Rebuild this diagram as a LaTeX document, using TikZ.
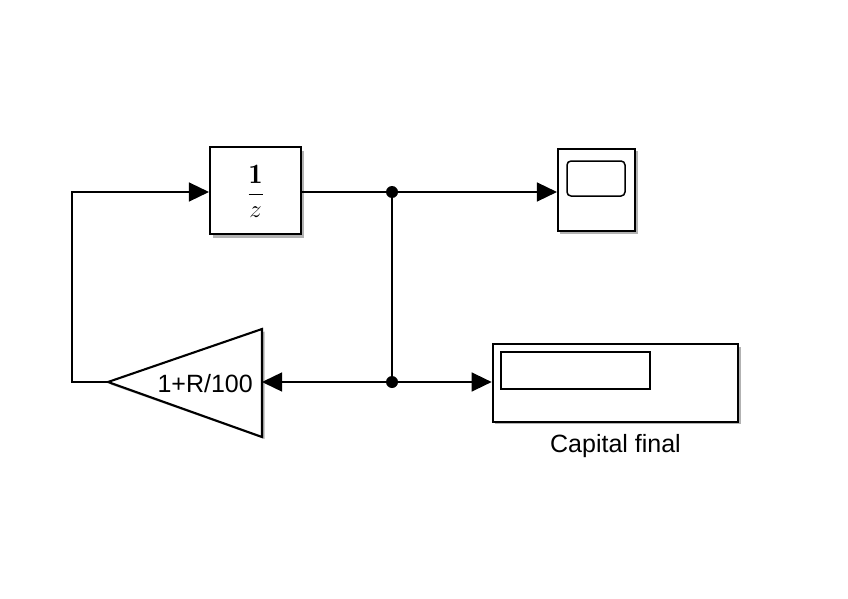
\documentclass[tikz,border=0pt]{standalone}
\usepackage{fontspec}
\newfontfamily\arial{Liberation Sans}
\usetikzlibrary{arrows.meta}
\begin{document}
\begin{tikzpicture}[x=1pt,y=-1pt,
  blk/.style={draw=black,fill=white,line width=2.1pt,inner sep=0pt},
  shad/.style={fill=black!30,draw=none},
  sig/.style={line width=1.4pt,-{Triangle[length=20pt,width=19pt]}},
  wire/.style={line width=1.4pt},
  jdot/.style={circle,fill=black,inner sep=0pt,minimum size=12pt},
  lbl/.style={font=\arial\fontsize{25}{30}\selectfont,inner sep=0pt}]
\useasboundingbox (0,0) rectangle (848,599);
% shadows
\fill[shad] (212.5,150.5) rectangle (303.5,238);
\fill[shad] (560,151) rectangle (637.5,233.5);
\fill[shad] (495,347) rectangle (740.5,424);
\fill[shad] (110.5,384.5) -- (264.5,331.5) -- (264.5,439) -- cycle;
% unit delay
\node[blk,minimum width=91pt,minimum height=87pt] (delay) at (255.5,190.5) {};
\node[inner sep=0pt,font=\fontsize{28}{32}\selectfont] (dtxt) at (255.5,191) {$\displaystyle\frac{\mathbf{1}}{z}$};
% scope
\node[blk,minimum width=77pt,minimum height=82pt] (scope) at (596.5,190) {};
\draw[line width=1.5pt,rounded corners=4pt] (567,161) rectangle (625,196);
% display
\node[blk,minimum width=245.6pt,minimum height=77.4pt] (disp) at (615.5,383) {};
\draw[line width=1.5pt] (501,352) rectangle (650,389);
\node[lbl,anchor=base] (dlbl) at (615.5,452) {Capital final};
% gain
\coordinate (gtip) at (108,382);
\coordinate (gright) at (262,382);
\draw[blk,line join=miter] (gtip) -- (262,329) -- (262,437) -- cycle;
\node[lbl,anchor=base east] (gtxt) at (253,392) {1+R/100};
% junctions
\coordinate (j1) at (392,192);
\coordinate (j2) at (392,382);
\coordinate (c1) at (72,382);
\coordinate (c2) at (72,192);
% wires
\draw[wire] (delay.east |- j1) -- (j1);
\draw[sig] (j1) -- (j1 -| scope.west);
\draw[wire] (j1) -- (j2);
\draw[sig] (j2) -- (j2 -| disp.west);
\draw[sig] (j2) -- (gright);
\draw[sig] (gtip) -- (c1) -- (c2) -- (c2 -| delay.west);
\node[jdot] (d1) at (j1) {};
\node[jdot] (d2) at (j2) {};
\end{tikzpicture}
\end{document}
